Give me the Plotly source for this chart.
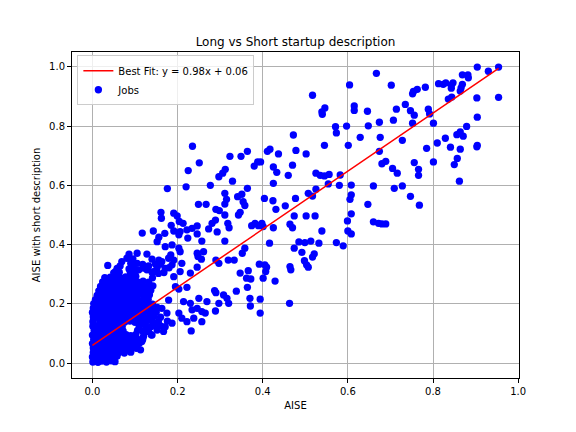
import plotly.graph_objects as go

# ---- data (AISE, AISE with short description) ----
fit_slope = 0.98
fit_intercept = 0.06
fit_label = "Best Fit: y = 0.98x + 0.06"

upper_points = [
    (0.235, 0.732), (0.251, 0.676), (0.323, 0.698),
    (0.667, 0.978), (0.604, 0.939), (0.517, 0.904), (0.546, 0.861), (0.539, 0.848), (0.540, 0.840),
    (0.615, 0.868), (0.615, 0.853), (0.646, 0.850), (0.674, 0.813), (0.648, 0.801), (0.571, 0.798),
    (0.573, 0.777), (0.597, 0.800), (0.472, 0.770), (0.629, 0.762), (0.676, 0.762), (0.545, 0.735),
    (0.601, 0.735), (0.478, 0.718), (0.502, 0.706), (0.437, 0.706), (0.411, 0.715), (0.417, 0.722),
    (0.364, 0.715), (0.349, 0.698), (0.388, 0.679), (0.395, 0.679), (0.380, 0.665), (0.470, 0.668),
    (0.425, 0.662), (0.674, 0.715),
    (0.904, 0.999), (0.954, 0.999), (0.930, 0.985), (0.869, 0.973), (0.882, 0.973), (0.883, 0.963),
    (0.702, 0.938), (0.782, 0.931), (0.763, 0.924), (0.754, 0.917), (0.752, 0.909), (0.813, 0.943),
    (0.824, 0.941), (0.830, 0.946), (0.843, 0.938), (0.847, 0.946), (0.843, 0.928), (0.869, 0.941),
    (0.866, 0.929), (0.864, 0.918), (0.844, 0.898), (0.836, 0.891), (0.903, 0.895), (0.954, 0.897),
    (0.735, 0.873), (0.714, 0.857), (0.747, 0.852), (0.756, 0.837), (0.789, 0.857), (0.792, 0.841),
    (0.707, 0.820), (0.752, 0.810), (0.801, 0.810), (0.904, 0.830), (0.879, 0.799), (0.864, 0.780),
    (0.856, 0.771), (0.871, 0.766), (0.829, 0.759), (0.728, 0.752), (0.810, 0.743), (0.904, 0.735),
    (0.903, 0.730), (0.841, 0.729), (0.864, 0.722), (0.785, 0.725), (0.857, 0.691), (0.801, 0.679),
    (0.756, 0.677), (0.850, 0.670), (0.680, 0.673), (0.689, 0.681), (0.705, 0.657),
]

middle_points = [
    (0.716, 0.641), (0.766, 0.654), (0.766, 0.634), (0.862, 0.614), (0.709, 0.590), (0.728, 0.598),
    (0.747, 0.563), (0.768, 0.533), (0.680, 0.470), (0.689, 0.470),
    (0.433, 0.644), (0.460, 0.634), (0.525, 0.641), (0.535, 0.634), (0.545, 0.632), (0.556, 0.637),
    (0.582, 0.635), (0.329, 0.614), (0.425, 0.607), (0.554, 0.605), (0.580, 0.600), (0.608, 0.601),
    (0.660, 0.598), (0.364, 0.590), (0.351, 0.570), (0.341, 0.562), (0.311, 0.573), (0.315, 0.553),
    (0.525, 0.587), (0.507, 0.573), (0.517, 0.564), (0.608, 0.568), (0.605, 0.553), (0.404, 0.556),
    (0.424, 0.548), (0.477, 0.556), (0.354, 0.545), (0.358, 0.532), (0.453, 0.531), (0.431, 0.519),
    (0.647, 0.536), (0.347, 0.509), (0.343, 0.500), (0.608, 0.504), (0.474, 0.497), (0.502, 0.497),
    (0.523, 0.497), (0.311, 0.500), (0.318, 0.472), (0.321, 0.457), (0.599, 0.480), (0.374, 0.464),
    (0.382, 0.472), (0.390, 0.464), (0.398, 0.472), (0.401, 0.461), (0.425, 0.457), (0.464, 0.469),
    (0.470, 0.457), (0.660, 0.477), (0.672, 0.472), (0.539, 0.446), (0.600, 0.446), (0.608, 0.436),
    (0.311, 0.412), (0.416, 0.405), (0.485, 0.409), (0.499, 0.407), (0.513, 0.412), (0.532, 0.405),
    (0.573, 0.407), (0.589, 0.396), (0.358, 0.388), (0.352, 0.371), (0.474, 0.388), (0.492, 0.374),
    (0.517, 0.358), (0.521, 0.369), (0.319, 0.348), (0.333, 0.348), (0.498, 0.346), (0.503, 0.332),
    (0.507, 0.324), (0.392, 0.334), (0.405, 0.332), (0.409, 0.324), (0.407, 0.309), (0.464, 0.326),
    (0.466, 0.315), (0.366, 0.312), (0.347, 0.304),
    (0.362, 0.287), (0.372, 0.284), (0.401, 0.287), (0.429, 0.277), (0.364, 0.256), (0.338, 0.243),
    (0.370, 0.219), (0.394, 0.216), (0.371, 0.193), (0.463, 0.202), (0.394, 0.169),
]

left_points = [
    (0.225, 0.650), (0.312, 0.654), (0.306, 0.641), (0.297, 0.629), (0.176, 0.589), (0.220, 0.595),
    (0.277, 0.600), (0.311, 0.537), (0.249, 0.536), (0.267, 0.536), (0.290, 0.519), (0.298, 0.515),
    (0.161, 0.509), (0.162, 0.489), (0.191, 0.506), (0.199, 0.497), (0.204, 0.478), (0.213, 0.472),
    (0.185, 0.465), (0.289, 0.483), (0.281, 0.472), (0.273, 0.453), (0.246, 0.463), (0.234, 0.455),
    (0.222, 0.450), (0.206, 0.444), (0.191, 0.446), (0.203, 0.433), (0.117, 0.439), (0.143, 0.446),
    (0.170, 0.438), (0.156, 0.425), (0.152, 0.410), (0.224, 0.422), (0.246, 0.436), (0.257, 0.412),
    (0.293, 0.443), (0.171, 0.393), (0.187, 0.399), (0.203, 0.388), (0.206, 0.376), (0.246, 0.371),
    (0.261, 0.376), (0.256, 0.351), (0.248, 0.360), (0.184, 0.365), (0.179, 0.354), (0.191, 0.348),
    (0.156, 0.348), (0.163, 0.343), (0.148, 0.335), (0.128, 0.368), (0.105, 0.371), (0.086, 0.368),
    (0.081, 0.354), (0.069, 0.343), (0.065, 0.328), (0.054, 0.309), (0.036, 0.330), (0.105, 0.337),
    (0.097, 0.320), (0.109, 0.315), (0.132, 0.328), (0.128, 0.315), (0.144, 0.309), (0.171, 0.320),
    (0.187, 0.332), (0.210, 0.337), (0.206, 0.309), (0.246, 0.324), (0.230, 0.304), (0.290, 0.348),
    (0.297, 0.337),
    (0.033, 0.270), (0.191, 0.292), (0.195, 0.258), (0.203, 0.250), (0.222, 0.256), (0.179, 0.213),
    (0.250, 0.219), (0.269, 0.208), (0.287, 0.245), (0.290, 0.238), (0.308, 0.230), (0.316, 0.219),
    (0.297, 0.202), (0.320, 0.202), (0.214, 0.208), (0.230, 0.202), (0.234, 0.180), (0.246, 0.185),
    (0.257, 0.174), (0.265, 0.169), (0.289, 0.176), (0.203, 0.169), (0.210, 0.152), (0.222, 0.140),
    (0.238, 0.152), (0.257, 0.140), (0.232, 0.109), (0.163, 0.185), (0.175, 0.169), (0.187, 0.135),
    (0.171, 0.123), (0.167, 0.107), (0.148, 0.129), (0.152, 0.112), (0.140, 0.095), (0.128, 0.107),
    (0.120, 0.090), (0.116, 0.073), (0.105, 0.062), (0.113, 0.045),
]

cluster_points = [
    (0.001, 0.004), (0.006, 0.006), (0.013, 0.003), (0.022, 0.007), (0.033, 0.004), (0.044, 0.008), (0.053, 0.005),
    (0.000, 0.021), (0.009, 0.019), (0.017, 0.023), (0.028, 0.018), (0.038, 0.022), (0.048, 0.020), (0.058, 0.024),
    (0.002, 0.036), (0.011, 0.033), (0.020, 0.038), (0.031, 0.034), (0.041, 0.037), (0.052, 0.033), (0.062, 0.036), (0.075, 0.034), (0.090, 0.037),
    (0.002, 0.051), (0.013, 0.049), (0.023, 0.052), (0.034, 0.048), (0.045, 0.053), (0.056, 0.049), (0.067, 0.051), (0.079, 0.048), (0.092, 0.052), (0.103, 0.050),
    (0.000, 0.066), (0.010, 0.064), (0.021, 0.067), (0.032, 0.063), (0.043, 0.066), (0.054, 0.064), (0.065, 0.068), (0.077, 0.063), (0.088, 0.066), (0.099, 0.064), (0.110, 0.067),
    (0.003, 0.080), (0.014, 0.082), (0.025, 0.078), (0.036, 0.081), (0.047, 0.079), (0.058, 0.083), (0.070, 0.079), (0.081, 0.081), (0.093, 0.078), (0.105, 0.082), (0.118, 0.080),
    (0.000, 0.095), (0.011, 0.097), (0.022, 0.093), (0.033, 0.096), (0.044, 0.094), (0.056, 0.098), (0.067, 0.094), (0.079, 0.096), (0.090, 0.093), (0.102, 0.097), (0.138, 0.096),
    (0.004, 0.110), (0.015, 0.112), (0.026, 0.108), (0.037, 0.111), (0.049, 0.109), (0.060, 0.113), (0.072, 0.109), (0.106, 0.111), (0.118, 0.108), (0.132, 0.112),
    (0.001, 0.125), (0.012, 0.127), (0.024, 0.123), (0.035, 0.126), (0.046, 0.124), (0.058, 0.128), (0.070, 0.124), (0.110, 0.125), (0.124, 0.128), (0.138, 0.124), (0.160, 0.126),
    (0.001, 0.140), (0.017, 0.142), (0.029, 0.138), (0.040, 0.141), (0.052, 0.139), (0.064, 0.143), (0.076, 0.139), (0.088, 0.142), (0.100, 0.138), (0.112, 0.141), (0.125, 0.139), (0.140, 0.143), (0.155, 0.140), (0.176, 0.142),
    (0.002, 0.156), (0.012, 0.155), (0.020, 0.157), (0.031, 0.153), (0.043, 0.156), (0.055, 0.154), (0.067, 0.158), (0.079, 0.154), (0.091, 0.157), (0.103, 0.153), (0.116, 0.156), (0.130, 0.154), (0.145, 0.158), (0.160, 0.155),
    (0.000, 0.171), (0.010, 0.170), (0.022, 0.172), (0.034, 0.168), (0.046, 0.171), (0.058, 0.169), (0.070, 0.173), (0.082, 0.169), (0.094, 0.172), (0.107, 0.168), (0.120, 0.171), (0.134, 0.169), (0.150, 0.173),
    (0.002, 0.186), (0.013, 0.185), (0.025, 0.187), (0.037, 0.183), (0.049, 0.186), (0.061, 0.184), (0.073, 0.188), (0.085, 0.184), (0.097, 0.187), (0.110, 0.183), (0.123, 0.186), (0.137, 0.184), (0.152, 0.188),
    (0.003, 0.201), (0.017, 0.200), (0.029, 0.202), (0.041, 0.198), (0.053, 0.201), (0.065, 0.199), (0.077, 0.203), (0.089, 0.199), (0.101, 0.202), (0.114, 0.198), (0.127, 0.201), (0.141, 0.199),
    (0.007, 0.214), (0.020, 0.215), (0.032, 0.217), (0.044, 0.213), (0.056, 0.216), (0.068, 0.214), (0.080, 0.218), (0.092, 0.214), (0.105, 0.217), (0.118, 0.213), (0.131, 0.216),
    (0.011, 0.229), (0.023, 0.230), (0.035, 0.232), (0.047, 0.228), (0.059, 0.231), (0.071, 0.229), (0.083, 0.233), (0.095, 0.229), (0.108, 0.232), (0.121, 0.228), (0.134, 0.231),
    (0.015, 0.244), (0.026, 0.245), (0.038, 0.247), (0.050, 0.243), (0.062, 0.246), (0.074, 0.244), (0.086, 0.248), (0.098, 0.244), (0.111, 0.247), (0.124, 0.243), (0.137, 0.246),
    (0.019, 0.259), (0.030, 0.260), (0.042, 0.262), (0.054, 0.258), (0.066, 0.261), (0.078, 0.259), (0.090, 0.263), (0.102, 0.259), (0.115, 0.262), (0.128, 0.258), (0.142, 0.261),
    (0.024, 0.274), (0.036, 0.275), (0.046, 0.277), (0.058, 0.273), (0.070, 0.276), (0.082, 0.274), (0.094, 0.278), (0.106, 0.274), (0.119, 0.277), (0.132, 0.273),
    (0.029, 0.289), (0.042, 0.290), (0.054, 0.292), (0.066, 0.288), (0.078, 0.291), (0.090, 0.289), (0.102, 0.293), (0.141, 0.288),
    (0.050, 0.305), (0.063, 0.307), (0.089, 0.306), (0.100, 0.304), (0.140, 0.307), (0.155, 0.303), (0.168, 0.306),
    (0.058, 0.320), (0.086, 0.318), (0.120, 0.321), (0.152, 0.323), (0.180, 0.322),
    (0.090, 0.337), (0.118, 0.333), (0.160, 0.334),
    (0.095, 0.352), (0.140, 0.351),
]

all_points = upper_points + middle_points + left_points + cluster_points
aise = [p[0] for p in all_points]
aise_short = [p[1] for p in all_points]

fit_x = [min(aise), max(aise)]
fit_y = [fit_slope * v + fit_intercept for v in fit_x]

FONT = "DejaVu Sans"
FIG_W, FIG_H = 568, 424  # page body adds an 8px offset

fig = go.Figure()
fig.add_trace(go.Scatter(
    x=aise, y=aise_short, mode="markers", name="Jobs",
    marker=dict(color="#0000ff", size=7.3, line=dict(width=0)),
    legendrank=2,
))
fig.add_trace(go.Scatter(
    x=fit_x, y=fit_y, mode="lines", name=fit_label,
    line=dict(color="#ff0000", width=1.5),
    legendrank=1,
))

axis_common = dict(
    showgrid=True, gridcolor="#b0b0b0", gridwidth=0.8,
    showline=True, linecolor="black", linewidth=1, mirror=True,
    ticks="outside", ticklen=4, tickwidth=1, tickcolor="black",
    tickfont=dict(family=FONT, size=10, color="black"),
    zeroline=False, tickformat=".1f", dtick=0.2, tick0=0,
    automargin=False,
)

fig.update_layout(
    width=FIG_W, height=FIG_H,
    margin=dict(l=64, r=57, t=44, b=54),
    paper_bgcolor="white", plot_bgcolor="white",
    title=dict(text="Long vs Short startup description", x=0.5, xref="paper",
               y=1 - 34 / FIG_H, yref="container", yanchor="middle", xanchor="center",
               font=dict(family=FONT, size=12, color="black")),
    xaxis=dict(range=[-0.048, 1.002],
               title=dict(text="AISE", font=dict(family=FONT, size=10, color="black"), standoff=5),
               **axis_common),
    yaxis=dict(range=[-0.05, 1.05],
               title=dict(text="AISE with short description", font=dict(family=FONT, size=10, color="black"), standoff=6),
               **axis_common),
    legend=dict(x=0.012, y=0.99, xanchor="left", yanchor="top",
                bgcolor="rgba(255,255,255,0.8)", bordercolor="#cccccc", borderwidth=1,
                font=dict(family=FONT, size=10, color="black"),
                tracegroupgap=0, itemwidth=30),
    showlegend=True,
)

fig.write_html("out.html")
